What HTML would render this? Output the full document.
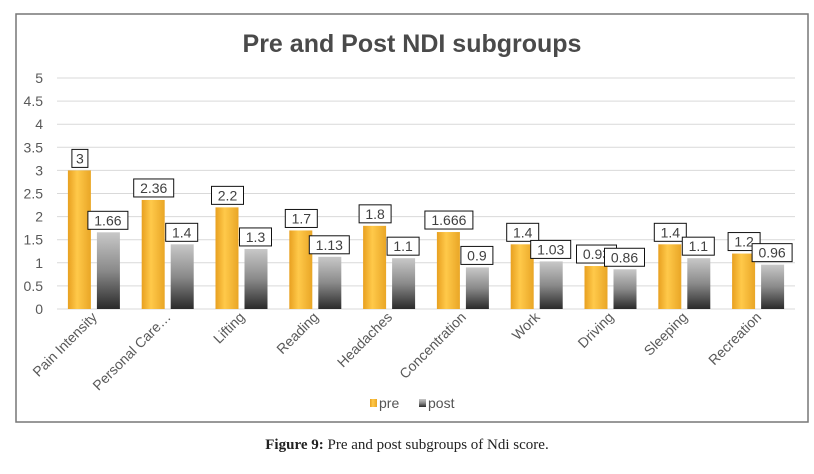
<!DOCTYPE html>
<html><head><meta charset="utf-8"><style>
body{margin:0;background:#fff;width:814px;height:469px;overflow:hidden}
svg text{font-family:"Liberation Sans",sans-serif}
</style></head><body>
<svg id="c" width="814" height="469">
<defs>
<linearGradient id="gp" x1="0" x2="1"><stop offset="0" stop-color="#e8a020"/><stop offset=".4" stop-color="#ffc94a"/><stop offset="1" stop-color="#e9a626"/></linearGradient>
<linearGradient id="gq" x1="0" x2="0" y1="0" y2="1"><stop offset="0" stop-color="#c8c8c8"/><stop offset=".5" stop-color="#8a8a8a"/><stop offset="1" stop-color="#2a2a2a"/></linearGradient>
</defs>
<rect x="16" y="14" width="792" height="408" fill="#fff" stroke="#777" stroke-width="1.5"/>
<text x="412" y="52" text-anchor="middle" font-size="25" font-weight="bold" fill="#4a4a4a">Pre and Post NDI subgroups</text>
<g id="grid"></g><g id="bars"></g><g id="xl"></g>
<g>
<rect x="370" y="399" width="7" height="8" fill="url(#gp)"/>
<text x="379" y="408" font-size="14" fill="#555">pre</text>
<rect x="419" y="399" width="7" height="8" fill="url(#gq)"/>
<text x="428" y="408" font-size="14" fill="#555">post</text>
</g>
<text x="407" y="449" text-anchor="middle" font-size="15" fill="#222" style="font-family:'Liberation Serif',serif"><tspan font-weight="bold">Figure 9:</tspan> Pre and post subgroups of Ndi score.</text>
</svg>
<script>
const categories=["Pain Intensity","Personal Care…","Lifting","Reading","Headaches","Concentration","Work","Driving","Sleeping","Recreation"];
const preValues=[3,2.36,2.2,1.7,1.8,1.666,1.4,0.93,1.4,1.2];
const postValues=[1.66,1.4,1.3,1.13,1.1,0.9,1.03,0.86,1.1,0.96];
const preLabels=["3","2.36","2.2","1.7","1.8","1.666","1.4","0.93","1.4","1.2"];
const postLabels=["1.66","1.4","1.3","1.13","1.1","0.9","1.03","0.86","1.1","0.96"];
const yTicks=[0,0.5,1,1.5,2,2.5,3,3.5,4,4.5,5];
const NS="http://www.w3.org/2000/svg";
const x0=57,x1=795,yb=309,yt=78;
const y=v=>yb-(yb-yt)*v/5;
const cw=(x1-x0)/categories.length;
const cx=i=>x0+cw*(i+0.5);
function mk(t,a,p){const e=document.createElementNS(NS,t);for(const k in a)e.setAttribute(k,a[k]);p.appendChild(e);return e;}
const g=document.getElementById('grid');
yTicks.forEach(v=>{
 const l=mk('line',{x1:x0,x2:x1,y1:y(v),y2:y(v),stroke:'#d9d9d9'},g);
 
 
 const t=mk('text',{x:43,y:y(v)+5,'text-anchor':'end','font-size':14,fill:'#595959'},g);
 t.textContent=String(v);
 
 
});
const b=document.getElementById('bars');
function label(xc,v,txt){
 const w=txt.length*8+8,h=18,yy=y(v)-h-3;
 const r=mk('rect',{x:xc-w/2,y:yy,width:w,height:h,fill:'#fff',stroke:'#111','stroke-width':1},b);
 
 
 const t=mk('text',{x:xc,y:yy+14,'text-anchor':'middle','font-size':14,fill:'#404040'},b);
 t.textContent=txt;
 
 
}
categories.forEach((c,i)=>{
 const r1=mk('rect',{x:cx(i)-26,y:y(preValues[i]),width:23,height:yb-y(preValues[i]),fill:'url(#gp)'},b);
 
 
 const r2=mk('rect',{x:cx(i)+3,y:y(postValues[i]),width:23,height:yb-y(postValues[i]),fill:'url(#gq)'},b);
 
 
});
categories.forEach((c,i)=>{
 label(cx(i)-14,preValues[i],preLabels[i]);
 label(cx(i)+14,postValues[i],postLabels[i]);
 const t=mk('text',{x:cx(i)+4,y:318,'text-anchor':'end','font-size':14,fill:'#595959',transform:`rotate(-45 ${cx(i)+4} 318)`},document.getElementById('xl'));
 t.textContent=c;
 
 
});
</script>
</body></html>
